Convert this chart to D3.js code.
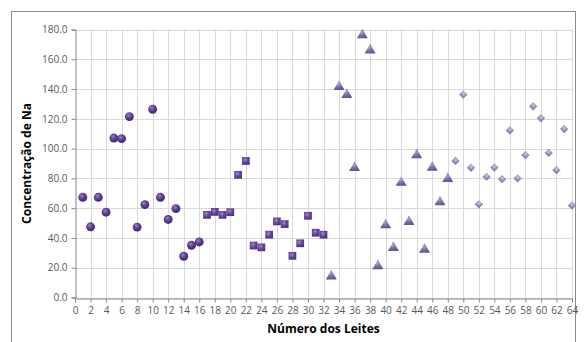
<!DOCTYPE html>
<html>
<head>
<meta charset="utf-8">
<script src="https://cdn.jsdelivr.net/npm/d3@7"></script>
<style>
  html, body { margin: 0; padding: 0; background: #fff; }
  svg { display: block; }
  text { font-family: "Open Sans", "Liberation Sans", sans-serif; }
</style>
</head>
<body>
<svg id="chart" width="588" height="342"></svg>
<script>
// Sample numbers (x) for each group of milk samples
const circleX  = [1,2,3,4,5,6,7,8,9,10,11,12,13,14,15,16];
const circleY  = [67.3,47.5,67.3,57.3,107.1,106.7,121.5,47.3,62.4,126.4,67.3,52.4,59.7,27.7,35.1,37.3];
const squareX  = [17,18,19,20,21,22,23,24,25,26,27,28,29,30,31,32];
const squareY  = [55.5,57.5,55.5,57.3,82.4,91.7,34.9,33.7,42.2,51.1,49.3,28.0,36.4,54.9,43.5,42.2];
const triangleX = [33,34,35,36,37,38,39,40,41,42,43,44,45,46,47,48];
const triangleY = [14.2,141.5,136.2,87.1,176.2,166.0,21.1,48.7,33.3,77.1,50.9,95.7,32.2,87.3,64.0,79.7];
const diamondX = [49,50,51,52,53,54,55,56,57,58,59,60,61,62,63,64];
const diamondY = [91.7,136.3,87.1,62.6,81.1,87.3,79.5,112.2,80.0,95.7,128.4,120.4,97.1,85.5,113.1,61.8];

const xTicks = d3.range(0, 65, 2);
const yTicks = d3.range(0, 181, 20);

const svg = d3.select("#chart");
const plot = { left: 75, right: 572, top: 29.5, bottom: 297.5 };

const x = d3.scaleLinear().domain([0, 64]).range([plot.left, plot.right]);
const y = d3.scaleLinear().domain([0, 180]).range([plot.bottom, plot.top]);

// Outer chart frame
svg.append("rect")
  .attr("x", 11.5).attr("y", 11.5)
  .attr("width", 564).attr("height", 340)
  .attr("fill", "#fff").attr("stroke", "#8c8c8c").attr("stroke-width", 1);

// Gradients giving the markers a shaded look
const defs = svg.append("defs");
function grad(id, light, mid, dark) {
  const g = defs.append("radialGradient").attr("id", id)
    .attr("cx", "40%").attr("cy", "35%").attr("r", "70%");
  g.append("stop").attr("offset", "0%").attr("stop-color", light);
  g.append("stop").attr("offset", "45%").attr("stop-color", mid);
  g.append("stop").attr("offset", "100%").attr("stop-color", dark);
}
grad("gCircle", "#9a82c4", "#5e3f93", "#3d2468");
grad("gSquare", "#a08ccb", "#6a4ba0", "#4a2f7a");
grad("gTriangle", "#b3a6d3", "#8070ae", "#5f4f8c");
grad("gDiamond", "#d2cbe4", "#a59bc5", "#7f74a4");

// Gridlines
svg.append("g").selectAll("line.h").data(yTicks).join("line")
  .attr("x1", plot.left).attr("x2", plot.right)
  .attr("y1", d => Math.round(y(d)) + 0.5).attr("y2", d => Math.round(y(d)) + 0.5)
  .attr("stroke", "#d9d9d9").attr("stroke-width", 1);
svg.append("g").selectAll("line.v").data(xTicks.filter(d => d > 0)).join("line")
  .attr("x1", d => Math.round(x(d)) + 0.5).attr("x2", d => Math.round(x(d)) + 0.5)
  .attr("y1", plot.top).attr("y2", plot.bottom)
  .attr("stroke", "#d9d9d9").attr("stroke-width", 1);

// Axes
const xAxis = d3.axisBottom(x).tickValues(xTicks).tickSizeOuter(0).tickSize(4).tickPadding(4);
const yAxis = d3.axisLeft(y).tickValues(yTicks).tickSizeOuter(0).tickSize(4).tickPadding(4)
  .tickFormat(d3.format(".1f"));

const gx = svg.append("g").attr("transform", `translate(0,${Math.round(plot.bottom) + 0.5})`).call(xAxis);
const gy = svg.append("g").attr("transform", `translate(${Math.round(plot.left) + 0.5},0)`).call(yAxis);
[gx, gy].forEach(g => {
  g.select(".domain").attr("stroke", "#868686");
  g.selectAll(".tick line").attr("stroke", "#868686");
  g.selectAll(".tick text").attr("fill", "#595959").style("font-size", "10px")
    .style("font-family", "'Open Sans', 'Liberation Sans', sans-serif");
});

// Markers
function series(xs, ys, type, size, fill, rotate) {
  const pts = xs.map((d, i) => [d, ys[i]]);
  svg.append("g").selectAll("path").data(pts).join("path")
    .attr("transform", d => `translate(${x(d[0])},${y(d[1])}) rotate(${rotate || 0})`)
    .attr("d", d3.symbol().type(type).size(size)())
    .attr("fill", `url(#${fill})`);
}
series(circleX, circleY, d3.symbolCircle, 62, "gCircle");
series(squareX, squareY, d3.symbolSquare, 60, "gSquare");
series(triangleX, triangleY, d3.symbolTriangle, 52, "gTriangle");
series(diamondX, diamondY, d3.symbolSquare, 34, "gDiamond", 45);

// Axis titles
svg.append("text")
  .attr("x", (plot.left + plot.right) / 2).attr("y", 333)
  .attr("text-anchor", "middle")
  .style("font-size", "12px").style("font-weight", "bold").attr("fill", "#000")
  .text("Número dos Leites");
svg.append("text")
  .attr("transform", `translate(31,${(plot.top + plot.bottom) / 2}) rotate(-90)`)
  .attr("text-anchor", "middle")
  .style("font-size", "12px").style("font-weight", "bold").attr("fill", "#000")
  .text("Concentração de Na");
</script>
</body>
</html>
